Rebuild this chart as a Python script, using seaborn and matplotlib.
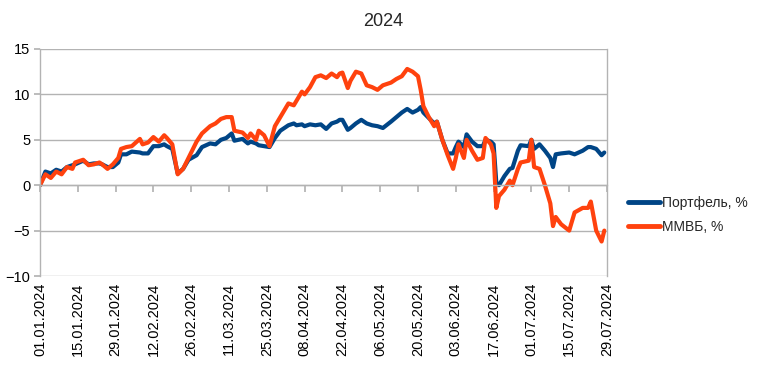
import matplotlib
matplotlib.use("Agg")
import matplotlib.pyplot as plt
import matplotlib.dates as mdates
import seaborn as sns
import pandas as pd
import numpy as np

# ---- data (day offsets from 01.01.2024) ----
days = [0, 2, 4, 6, 8, 10, 12, 13, 16, 18, 20, 22, 23, 25, 27, 29, 30, 32, 34, 37,
        38, 40, 42, 44, 46, 47, 49, 51, 53, 55, 58, 60, 63, 65, 67, 69, 71, 72, 75, 77,
        78, 80, 81, 83, 85, 87, 89, 91, 92, 94, 95, 97, 98, 100, 102, 104, 106, 108, 110, 111,
        112, 114, 115, 117, 119, 121, 123, 125, 127, 130, 132, 134, 136, 138, 140, 141, 142, 144, 146, 147,
        149, 151, 153, 154, 155, 157, 158, 160, 162, 164, 165, 167, 168, 169, 170, 172, 174, 175, 177, 178,
        181, 182, 183, 185, 187, 189, 190, 191, 193, 196, 198, 201, 203, 204, 206, 208, 209]

portfolio = [0.0, 1.5, 1.3, 1.7, 1.5, 2.0, 2.2, 2.3, 2.7, 2.3, 2.4, 2.4, 2.3, 2.0, 2.0, 2.5, 3.4, 3.4, 3.7, 3.6,
             3.5, 3.5, 4.3, 4.3, 4.5, 4.3, 4.0, 1.3, 1.8, 2.8, 3.3, 4.2, 4.6, 4.5, 5.0, 5.2, 5.7, 4.9, 5.1, 4.6,
             4.8, 4.6, 4.4, 4.3, 4.2, 5.2, 6.0, 6.4, 6.6, 6.8, 6.6, 6.7, 6.5, 6.7, 6.6, 6.7, 6.2, 6.8, 7.0, 7.2,
             7.2, 6.1, 6.3, 6.8, 7.2, 6.8, 6.6, 6.5, 6.3, 7.0, 7.5, 8.0, 8.4, 8.0, 8.3, 8.6, 8.0, 7.4, 6.8, 7.0,
             5.0, 3.5, 3.5, 4.2, 4.8, 4.2, 5.6, 4.8, 4.3, 4.3, 5.0, 4.8, 4.5, 0.3, 0.0, 1.0, 1.8, 1.9, 3.8, 4.4,
             4.3, 5.0, 4.0, 4.5, 3.8, 3.0, 2.0, 3.4, 3.5, 3.6, 3.4, 3.8, 4.2, 4.2, 4.0, 3.3, 3.6]

micex = [0.0, 1.2, 0.8, 1.5, 1.2, 2.0, 1.8, 2.5, 2.8, 2.2, 2.3, 2.5, 2.3, 1.8, 2.3, 3.0, 4.0, 4.2, 4.3, 5.1,
         4.5, 4.7, 5.3, 4.8, 5.5, 5.2, 4.5, 1.2, 1.8, 3.0, 4.8, 5.7, 6.5, 6.8, 7.3, 7.5, 7.5, 6.0, 5.8, 5.2,
         5.7, 5.0, 6.0, 5.5, 4.3, 6.5, 7.5, 8.5, 9.0, 8.8, 9.3, 10.3, 10.0, 10.8, 11.9, 12.1, 11.8, 12.3, 11.9, 12.3,
         12.4, 10.7, 11.5, 12.5, 12.3, 11.0, 10.8, 10.5, 11.0, 11.3, 11.7, 12.0, 12.8, 12.5, 12.0, 10.5, 8.7, 7.5, 6.5, 7.0,
         5.0, 3.3, 1.8, 3.0, 4.5, 3.0, 5.0, 3.8, 2.8, 3.0, 5.2, 4.5, 3.5, -2.5, -1.2, -0.5, 0.5, 0.0, 1.8, 2.5,
         2.7, 5.0, 2.0, 1.8, 0.0, -2.0, -4.5, -3.5, -4.3, -5.0, -3.0, -2.5, -2.5, -1.8, -5.0, -6.2, -5.0]

series_names = ["Портфель, %", "ММВБ, %"]
series_colors = ["#004586", "#ff420e"]
start_date = "2024-01-01"
end_date = "2024-07-29"
title = "2024"

dates = pd.to_datetime(start_date) + pd.to_timedelta(days, unit="D")
df = pd.concat([
    pd.DataFrame({"date": dates, "value": portfolio, "series": series_names[0]}),
    pd.DataFrame({"date": dates, "value": micex, "series": series_names[1]}),
])

sns.set_theme(style="white")
plt.rcParams["font.family"] = ["Liberation Sans", "DejaVu Sans"]

fig = plt.figure(figsize=(7.58, 3.65), dpi=100)
ax = fig.add_axes([40 / 758, 1 - 276 / 365, (607 - 40) / 758, (276 - 49) / 365])

sns.lineplot(data=df, x="date", y="value", hue="series", hue_order=series_names,
             palette=series_colors, linewidth=3.0, ax=ax, legend=True)

x0 = pd.to_datetime(start_date)
x1 = pd.to_datetime(end_date)
ax.set_xlim(x0, x1)
ax.set_ylim(-10, 15)
ax.set_yticks(np.arange(-10, 16, 5))
ax.yaxis.grid(True, color="#b3b3b3", linewidth=1.0)
ax.set_axisbelow(True)

tick_dates = pd.date_range(x0, x1, freq="14D")
ax.set_xticks(tick_dates)
ax.xaxis.set_major_formatter(mdates.DateFormatter("%d.%m.%Y"))

# x axis line crossing at 0 with downward tick marks, labels at the bottom
ax.spines["bottom"].set_position(("data", 0))
ax.spines["bottom"].set_color("#b3b3b3")
ax.spines["left"].set_color("#b3b3b3")
ax.spines["right"].set_color("#b3b3b3")
ax.spines["top"].set_visible(False)
for s in ["bottom", "left", "right"]:
    ax.spines[s].set_linewidth(1.0)
ax.tick_params(axis="x", which="major", direction="out", length=5, color="#b3b3b3",
               labelbottom=False, bottom=True)
ax.tick_params(axis="y", which="major", direction="out", length=4, color="#b3b3b3",
               labelsize=10.5, labelcolor="black", pad=3, left=True)

sec = ax.secondary_xaxis(0)
sec.set_xticks(tick_dates)
sec.xaxis.set_major_formatter(mdates.DateFormatter("%d.%m.%Y"))
sec.tick_params(axis="x", length=0, labelsize=10.5, labelrotation=90, pad=5, labelcolor="black")
sec.spines["bottom"].set_visible(False)

ax.set_xlabel("")
ax.set_ylabel("")

leg = ax.legend(loc="center left", bbox_to_anchor=(1.037, 0.27), frameon=False,
                borderaxespad=0, borderpad=0,
                fontsize=10, handlelength=2.3, handletextpad=0.15, labelspacing=0.75)
for line in leg.get_lines():
    line.set_linewidth(3.5)

fig.suptitle(title, x=0.505, y=0.965, fontsize=13)

fig.savefig("out.png", dpi=100)
